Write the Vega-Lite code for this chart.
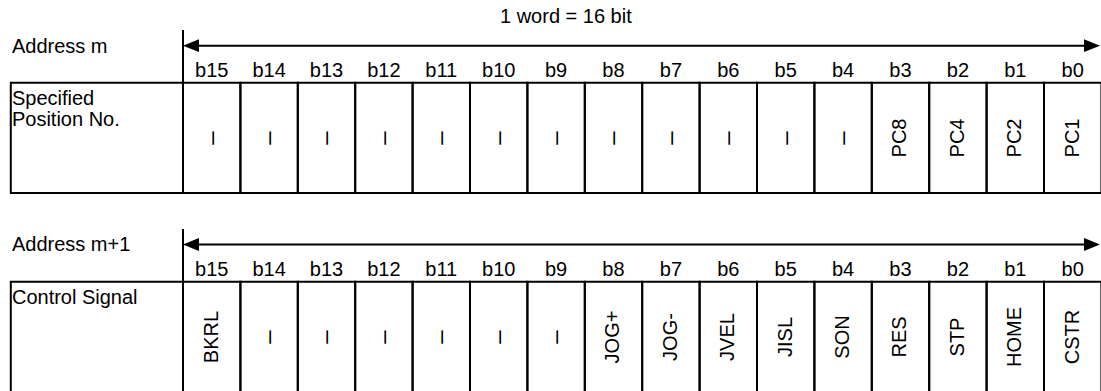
{
  "$schema": "https://vega.github.io/schema/vega-lite/v6.json",
  "width": 1101,
  "height": 391,
  "autosize": {"type": "fit", "contains": "padding"},
  "padding": 0,
  "background": "white",
  "config": {
    "view": {"stroke": null},
    "text": {"font": "Liberation Sans", "fontSize": 20, "color": "black"}
  },
  "datasets": {
    "cells": [
      {"block": 1, "bit": "", "value": "", "start": -3, "end": 0, "mid": -1.5, "top": 8.27, "bottom": 19.3, "center": 13.8},
      {"block": 1, "bit": "b15", "value": "–", "start": 0, "end": 1, "mid": 0.5, "top": 8.27, "bottom": 19.3, "center": 13.8},
      {"block": 1, "bit": "b14", "value": "–", "start": 1, "end": 2, "mid": 1.5, "top": 8.27, "bottom": 19.3, "center": 13.8},
      {"block": 1, "bit": "b13", "value": "–", "start": 2, "end": 3, "mid": 2.5, "top": 8.27, "bottom": 19.3, "center": 13.8},
      {"block": 1, "bit": "b12", "value": "–", "start": 3, "end": 4, "mid": 3.5, "top": 8.27, "bottom": 19.3, "center": 13.8},
      {"block": 1, "bit": "b11", "value": "–", "start": 4, "end": 5, "mid": 4.5, "top": 8.27, "bottom": 19.3, "center": 13.8},
      {"block": 1, "bit": "b10", "value": "–", "start": 5, "end": 6, "mid": 5.5, "top": 8.27, "bottom": 19.3, "center": 13.8},
      {"block": 1, "bit": "b9", "value": "–", "start": 6, "end": 7, "mid": 6.5, "top": 8.27, "bottom": 19.3, "center": 13.8},
      {"block": 1, "bit": "b8", "value": "–", "start": 7, "end": 8, "mid": 7.5, "top": 8.27, "bottom": 19.3, "center": 13.8},
      {"block": 1, "bit": "b7", "value": "–", "start": 8, "end": 9, "mid": 8.5, "top": 8.27, "bottom": 19.3, "center": 13.8},
      {"block": 1, "bit": "b6", "value": "–", "start": 9, "end": 10, "mid": 9.5, "top": 8.27, "bottom": 19.3, "center": 13.8},
      {"block": 1, "bit": "b5", "value": "–", "start": 10, "end": 11, "mid": 10.5, "top": 8.27, "bottom": 19.3, "center": 13.8},
      {"block": 1, "bit": "b4", "value": "–", "start": 11, "end": 12, "mid": 11.5, "top": 8.27, "bottom": 19.3, "center": 13.8},
      {"block": 1, "bit": "b3", "value": "PC8", "start": 12, "end": 13, "mid": 12.5, "top": 8.27, "bottom": 19.3, "center": 13.8},
      {"block": 1, "bit": "b2", "value": "PC4", "start": 13, "end": 14, "mid": 13.5, "top": 8.27, "bottom": 19.3, "center": 13.8},
      {"block": 1, "bit": "b1", "value": "PC2", "start": 14, "end": 15, "mid": 14.5, "top": 8.27, "bottom": 19.3, "center": 13.8},
      {"block": 1, "bit": "b0", "value": "PC1", "start": 15, "end": 16, "mid": 15.5, "top": 8.27, "bottom": 19.3, "center": 13.8},
      {"block": 2, "bit": "", "value": "", "start": -3, "end": 0, "mid": -1.5, "top": 28.17, "bottom": 39.3, "center": 33.7},
      {"block": 2, "bit": "b15", "value": "BKRL", "start": 0, "end": 1, "mid": 0.5, "top": 28.17, "bottom": 39.3, "center": 33.7},
      {"block": 2, "bit": "b14", "value": "–", "start": 1, "end": 2, "mid": 1.5, "top": 28.17, "bottom": 39.3, "center": 33.7},
      {"block": 2, "bit": "b13", "value": "–", "start": 2, "end": 3, "mid": 2.5, "top": 28.17, "bottom": 39.3, "center": 33.7},
      {"block": 2, "bit": "b12", "value": "–", "start": 3, "end": 4, "mid": 3.5, "top": 28.17, "bottom": 39.3, "center": 33.7},
      {"block": 2, "bit": "b11", "value": "–", "start": 4, "end": 5, "mid": 4.5, "top": 28.17, "bottom": 39.3, "center": 33.7},
      {"block": 2, "bit": "b10", "value": "–", "start": 5, "end": 6, "mid": 5.5, "top": 28.17, "bottom": 39.3, "center": 33.7},
      {"block": 2, "bit": "b9", "value": "–", "start": 6, "end": 7, "mid": 6.5, "top": 28.17, "bottom": 39.3, "center": 33.7},
      {"block": 2, "bit": "b8", "value": "JOG+", "start": 7, "end": 8, "mid": 7.5, "top": 28.17, "bottom": 39.3, "center": 33.7},
      {"block": 2, "bit": "b7", "value": "JOG-", "start": 8, "end": 9, "mid": 8.5, "top": 28.17, "bottom": 39.3, "center": 33.7},
      {"block": 2, "bit": "b6", "value": "JVEL", "start": 9, "end": 10, "mid": 9.5, "top": 28.17, "bottom": 39.3, "center": 33.7},
      {"block": 2, "bit": "b5", "value": "JISL", "start": 10, "end": 11, "mid": 10.5, "top": 28.17, "bottom": 39.3, "center": 33.7},
      {"block": 2, "bit": "b4", "value": "SON", "start": 11, "end": 12, "mid": 11.5, "top": 28.17, "bottom": 39.3, "center": 33.7},
      {"block": 2, "bit": "b3", "value": "RES", "start": 12, "end": 13, "mid": 12.5, "top": 28.17, "bottom": 39.3, "center": 33.7},
      {"block": 2, "bit": "b2", "value": "STP", "start": 13, "end": 14, "mid": 13.5, "top": 28.17, "bottom": 39.3, "center": 33.7},
      {"block": 2, "bit": "b1", "value": "HOME", "start": 14, "end": 15, "mid": 14.5, "top": 28.17, "bottom": 39.3, "center": 33.7},
      {"block": 2, "bit": "b0", "value": "CSTR", "start": 15, "end": 16, "mid": 15.5, "top": 28.17, "bottom": 39.3, "center": 33.7}
    ],
    "lines": [
      {"block": 1, "kind": "divider", "x": 0, "x2": 0, "y": 3.0, "y2": 8.27},
      {"block": 1, "kind": "word", "x": 0.1, "x2": 15.9, "y": 4.57, "y2": 4.57},
      {"block": 2, "kind": "divider", "x": 0, "x2": 0, "y": 22.9, "y2": 28.17},
      {"block": 2, "kind": "word", "x": 0.1, "x2": 15.9, "y": 24.45, "y2": 24.45}
    ],
    "heads": [
      {"block": 1, "dir": "left", "x": 0.139, "y": 4.57},
      {"block": 1, "dir": "right", "x": 15.836, "y": 4.57},
      {"block": 2, "dir": "left", "x": 0.139, "y": 24.45},
      {"block": 2, "dir": "right", "x": 15.836, "y": 24.45}
    ],
    "leftText": [
      {"text": "Address m", "x": -2.98, "y": 5.25},
      {"text": "Specified", "x": -2.98, "y": 10.45},
      {"text": "Position No.", "x": -2.98, "y": 12.6},
      {"text": "Address m+1", "x": -2.98, "y": 25.1},
      {"text": "Control Signal", "x": -2.98, "y": 30.4}
    ],
    "centerText": [
      {"text": "1 word = 16 bit", "x": 6.67, "y": 2.3},
      {"text": "b15", "x": 0.5, "y": 7.7}, {"text": "b14", "x": 1.5, "y": 7.7},
      {"text": "b13", "x": 2.5, "y": 7.7}, {"text": "b12", "x": 3.5, "y": 7.7},
      {"text": "b11", "x": 4.5, "y": 7.7}, {"text": "b10", "x": 5.5, "y": 7.7},
      {"text": "b9", "x": 6.5, "y": 7.7}, {"text": "b8", "x": 7.5, "y": 7.7},
      {"text": "b7", "x": 8.5, "y": 7.7}, {"text": "b6", "x": 9.5, "y": 7.7},
      {"text": "b5", "x": 10.5, "y": 7.7}, {"text": "b4", "x": 11.5, "y": 7.7},
      {"text": "b3", "x": 12.5, "y": 7.7}, {"text": "b2", "x": 13.5, "y": 7.7},
      {"text": "b1", "x": 14.5, "y": 7.7}, {"text": "b0", "x": 15.5, "y": 7.7},
      {"text": "b15", "x": 0.5, "y": 27.55}, {"text": "b14", "x": 1.5, "y": 27.55},
      {"text": "b13", "x": 2.5, "y": 27.55}, {"text": "b12", "x": 3.5, "y": 27.55},
      {"text": "b11", "x": 4.5, "y": 27.55}, {"text": "b10", "x": 5.5, "y": 27.55},
      {"text": "b9", "x": 6.5, "y": 27.55}, {"text": "b8", "x": 7.5, "y": 27.55},
      {"text": "b7", "x": 8.5, "y": 27.55}, {"text": "b6", "x": 9.5, "y": 27.55},
      {"text": "b5", "x": 10.5, "y": 27.55}, {"text": "b4", "x": 11.5, "y": 27.55},
      {"text": "b3", "x": 12.5, "y": 27.55}, {"text": "b2", "x": 13.5, "y": 27.55},
      {"text": "b1", "x": 14.5, "y": 27.55}, {"text": "b0", "x": 15.5, "y": 27.55}
    ]
  },
  "layer": [
    {
      "data": {"name": "cells"},
      "mark": {"type": "rect", "filled": false, "stroke": "black", "strokeWidth": 2, "clip": true},
      "encoding": {
        "x": {"field": "start", "type": "quantitative", "axis": null, "scale": {"domain": [-3.188, 15.993], "nice": false, "zero": false}},
        "x2": {"field": "end"},
        "y": {"field": "top", "type": "quantitative", "axis": null, "scale": {"domain": [0, 39.1], "nice": false, "zero": false, "reverse": true}},
        "y2": {"field": "bottom"}
      }
    },
    {
      "data": {"name": "lines"},
      "mark": {"type": "rule", "color": "black", "strokeWidth": 2, "clip": true},
      "encoding": {
        "x": {"field": "x", "type": "quantitative", "axis": null, "scale": {"domain": [-3.188, 15.993], "nice": false, "zero": false}},
        "x2": {"field": "x2"},
        "y": {"field": "y", "type": "quantitative", "axis": null, "scale": {"domain": [0, 39.1], "nice": false, "zero": false, "reverse": true}},
        "y2": {"field": "y2"}
      }
    },
    {
      "data": {"name": "heads"},
      "mark": {"type": "point", "filled": true, "color": "black", "opacity": 1, "size": 256, "strokeWidth": 0, "clip": true},
      "encoding": {
        "x": {"field": "x", "type": "quantitative", "axis": null, "scale": {"domain": [-3.188, 15.993], "nice": false, "zero": false}},
        "y": {"field": "y", "type": "quantitative", "axis": null, "scale": {"domain": [0, 39.1], "nice": false, "zero": false, "reverse": true}},
        "shape": {"field": "dir", "type": "nominal", "legend": null, "scale": {"domain": ["left", "right"], "range": ["M-1,0L1,-0.8L1,0.8Z", "M1,0L-1,-0.8L-1,0.8Z"]}}
      }
    },
    {
      "data": {"name": "leftText"},
      "mark": {"type": "text", "align": "left", "baseline": "alphabetic", "clip": true},
      "encoding": {
        "x": {"field": "x", "type": "quantitative", "axis": null, "scale": {"domain": [-3.188, 15.993], "nice": false, "zero": false}},
        "y": {"field": "y", "type": "quantitative", "axis": null, "scale": {"domain": [0, 39.1], "nice": false, "zero": false, "reverse": true}},
        "text": {"field": "text"}
      }
    },
    {
      "data": {"name": "centerText"},
      "mark": {"type": "text", "align": "center", "baseline": "alphabetic", "clip": true},
      "encoding": {
        "x": {"field": "x", "type": "quantitative", "axis": null, "scale": {"domain": [-3.188, 15.993], "nice": false, "zero": false}},
        "y": {"field": "y", "type": "quantitative", "axis": null, "scale": {"domain": [0, 39.1], "nice": false, "zero": false, "reverse": true}},
        "text": {"field": "text"}
      }
    },
    {
      "data": {"name": "cells"},
      "transform": [{"filter": "datum.value !== '–'"}],
      "mark": {"type": "text", "align": "center", "baseline": "middle", "angle": 270, "clip": true},
      "encoding": {
        "x": {"field": "mid", "type": "quantitative", "axis": null, "scale": {"domain": [-3.188, 15.993], "nice": false, "zero": false}},
        "y": {"field": "center", "type": "quantitative", "axis": null, "scale": {"domain": [0, 39.1], "nice": false, "zero": false, "reverse": true}},
        "text": {"field": "value"}
      }
    },
    {
      "data": {"name": "cells"},
      "transform": [{"filter": "datum.value === '–'"}],
      "mark": {"type": "text", "align": "center", "baseline": "middle", "angle": 270, "fontSize": 24, "clip": true},
      "encoding": {
        "x": {"field": "mid", "type": "quantitative", "axis": null, "scale": {"domain": [-3.188, 15.993], "nice": false, "zero": false}},
        "y": {"field": "center", "type": "quantitative", "axis": null, "scale": {"domain": [0, 39.1], "nice": false, "zero": false, "reverse": true}},
        "text": {"field": "value"}
      }
    }
  ]
}
